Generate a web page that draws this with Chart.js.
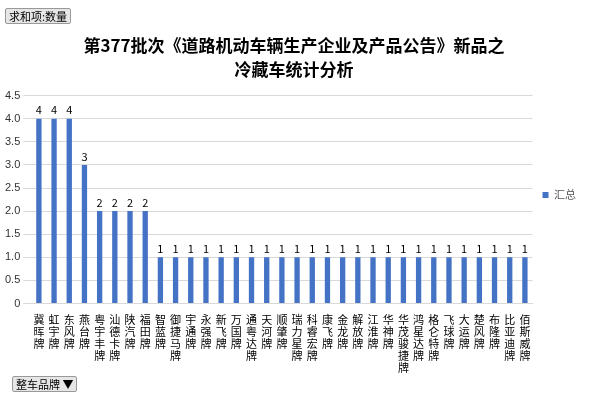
<!DOCTYPE html><html><head><meta charset="utf-8"><script src="https://cdn.jsdelivr.net/npm/chart.js@4"></script>
<style>body{margin:0;background:#fff;font-family:"Noto Sans CJK SC";}#w{position:relative;width:600px;height:400px}
.btn{position:absolute;background:#e6e6e6;border:1px solid #999;border-radius:2px;font-size:11px;padding:0 3px;line-height:14px;color:#000}</style></head><body>
<div id="w"><canvas id="c" width="600" height="400"></canvas>
<div class="btn" style="left:5px;top:8px">求和项:数量</div>
<div class="btn" style="left:12px;top:376px">整车品牌 ▼</div></div>
<script>
const categories=["冀晖牌","虹宇牌","东风牌","燕台牌","粤宇丰牌","汕德卡牌","陕汽牌","福田牌","智蓝牌","御捷马牌","宇通牌","永强牌","新飞牌","万国牌","通粤达牌","天河牌","顺肇牌","瑞力星牌","科睿宏牌","康飞牌","金龙牌","解放牌","江淮牌","华神牌","华茂骏捷牌","鸿星达牌","格仑特牌","飞球牌","大运牌","楚风牌","布隆牌","比亚迪牌","佰斯威牌"];
const values=[4,4,4,3,2,2,2,2,1,1,1,1,1,1,1,1,1,1,1,1,1,1,1,1,1,1,1,1,1,1,1,1,1];
const yTicks=[0,0.5,1,1.5,2,2.5,3,3.5,4,4.5];
const valLabels={id:'vl',afterDatasetsDraw(ch){const c=ch.ctx;c.save();c.font='11px "Noto Sans CJK SC"';c.fillStyle='#000';c.textAlign='center';c.textBaseline='bottom';
ch.getDatasetMeta(0).data.forEach((b,i)=>c.fillText(values[i],b.x,b.y-3));c.restore();}};
new Chart(document.getElementById('c'),{type:'bar',data:{labels:categories.map(s=>[...s]),datasets:[{label:'汇总',data:values,backgroundColor:'#4472C4',barPercentage:0.35,categoryPercentage:1}]},
options:{responsive:false,animation:false,layout:{padding:{left:2,right:14,top:14,bottom:24}},
plugins:{title:{display:true,text:['第377批次《道路机动车辆生产企业及产品公告》新品之','冷藏车统计分析'],font:{size:17,weight:'bold',family:'"Noto Sans CJK SC"',lineHeight:1.4},color:'#000',padding:{top:20,bottom:14}},
legend:{position:'right',labels:{boxWidth:6,boxHeight:6,font:{size:11,family:'"Noto Sans CJK SC"'},color:'#555'}},tooltip:{enabled:false}},
scales:{y:{min:0,max:4.5,afterBuildTicks:a=>{a.ticks=yTicks.map(v=>({value:v}))},ticks:{font:{size:11},color:'#333'},grid:{color:'#d9d9d9'},border:{display:false}},
x:{ticks:{autoSkip:false,maxRotation:0,minRotation:0,font:{size:11,family:'"Noto Sans CJK SC"',lineHeight:1.1},color:'#000',padding:2},grid:{display:false},border:{color:'#d9d9d9'}}}},plugins:[valLabels]});
</script></body></html>
